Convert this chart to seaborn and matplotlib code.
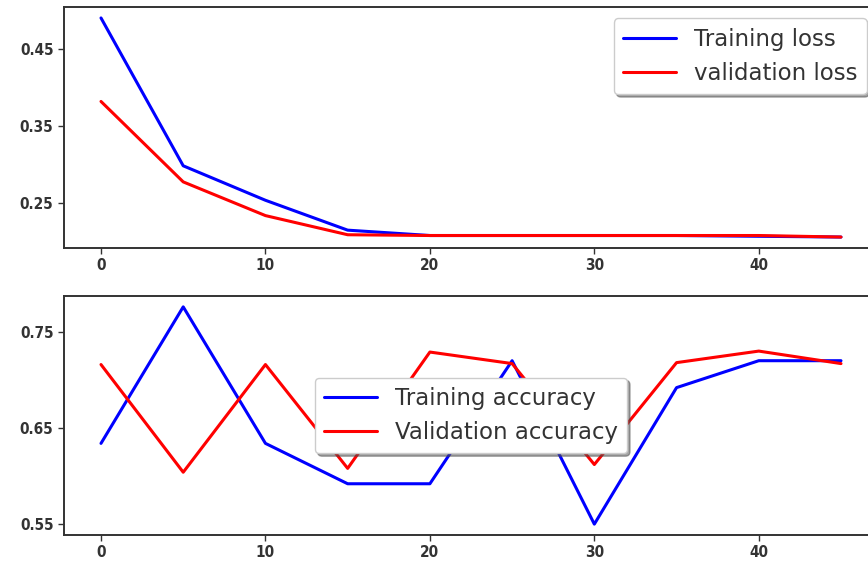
import matplotlib
matplotlib.use("Agg")
import matplotlib.pyplot as plt
import seaborn as sns
import pandas as pd

# epochs (every 5th)
epochs = [0, 5, 10, 15, 20, 25, 30, 35, 40, 45]

train_loss = [0.491, 0.298, 0.253, 0.214, 0.207, 0.207, 0.207, 0.207, 0.206, 0.205]
val_loss = [0.382, 0.277, 0.233, 0.208, 0.207, 0.207, 0.207, 0.207, 0.207, 0.205]

train_acc = [0.634, 0.776, 0.634, 0.592, 0.592, 0.720, 0.550, 0.692, 0.720, 0.720]
val_acc = [0.716, 0.604, 0.716, 0.608, 0.729, 0.717, 0.612, 0.718, 0.730, 0.717]

loss_df = pd.DataFrame({"epoch": epochs * 2,
                        "value": train_loss + val_loss,
                        "series": ["Training loss"] * 10 + ["validation loss"] * 10})
acc_df = pd.DataFrame({"epoch": epochs * 2,
                       "value": train_acc + val_acc,
                       "series": ["Training accuracy"] * 10 + ["Validation accuracy"] * 10})

sns.set_style("ticks")
fig = plt.figure(figsize=(8.68, 5.74), dpi=100)
W, H = 868, 574
ax1 = fig.add_axes([64 / W, 1 - 248 / H, (878 - 64) / W, (248 - 7) / H])
ax2 = fig.add_axes([64 / W, 1 - 535 / H, (878 - 64) / W, (535 - 296) / H])

sns.lineplot(data=loss_df, x="epoch", y="value", hue="series",
             palette=["blue", "red"], linewidth=2.2, ax=ax1)
sns.lineplot(data=acc_df, x="epoch", y="value", hue="series",
             palette=["blue", "red"], linewidth=2.2, ax=ax2)

ax1.set_yticks([0.25, 0.35, 0.45])
ax2.set_yticks([0.55, 0.65, 0.75])

for ax in (ax1, ax2):
    ax.set_xlabel("")
    ax.set_ylabel("")
    ax.set_xticks([0, 10, 20, 30, 40])
    for lab in ax.get_xticklabels() + ax.get_yticklabels():
        lab.set_fontfamily("DejaVu Sans")
        lab.set_fontstretch("condensed")
        lab.set_fontweight("bold")
        lab.set_fontsize(11)
        lab.set_color("#333333")
    ax.tick_params(length=4, width=1, colors="#333333", labelcolor="#333333")
    for sp in ax.spines.values():
        sp.set_visible(True)
        sp.set_linewidth(1.4)
        sp.set_color("#333333")

ax1.legend(loc="upper right", fontsize=16.5, shadow=True, handlelength=2.3,
           labelcolor="#333333", fancybox=True)
ax2.legend(loc="center", fontsize=16.5, shadow=True, handlelength=2.3,
           labelcolor="#333333", fancybox=True)

fig.savefig("out.png", dpi=100)
